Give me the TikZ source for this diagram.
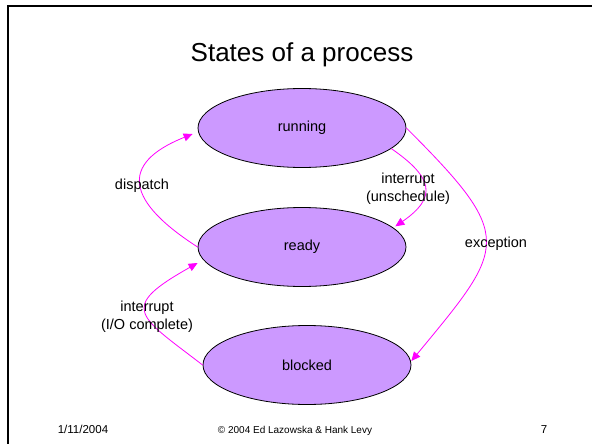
\documentclass[tikz,border=0pt]{standalone}
\usepackage{fontspec}
\setmainfont{Liberation Sans}
\usetikzlibrary{shapes.geometric,arrows.meta,calc}
\definecolor{statefill}{HTML}{CC99FF}
\definecolor{flowpink}{HTML}{FF00FF}
\begin{document}
\begin{tikzpicture}[x = 1pt, y = -1pt,
	state/.style = {ellipse, draw, line width = 0.8pt, fill = statefill,
		minimum width = 208pt, minimum height = 79pt, inner sep = 0pt,
		font = \fontsize{14.5}{18}\selectfont},
	flow/.style = {flowpink, line width = 0.8pt, -{Triangle[length = 9pt, width = 8pt]}},
	lbl/.style = {align = center, font = \fontsize{14.5}{18}\selectfont}]
	\useasboundingbox (0, 0) rectangle (592, 444);
	% frame
	\draw[line width = 2pt] (8, 446) -- (8, 6) -- (594, 6);
	% title
	\node[anchor = base, font = \fontsize{26}{30}\selectfont] (title) at (302, 62) {States of a process};
	% the states
	\node[state] (running) at (302, 128) {running};
	\node[state] (ready)   at (302, 247) {ready};
	\node[state] (blocked) at (307, 365) {blocked};
	% transitions
	\draw[flow] (ready.west) .. controls +(-70, -45) and +(-75, 30) .. ($(running.west) + (-5, 6)$);
	\draw[flow] (running.-13) .. controls +(42, 29) and +(42, -29) .. ($(ready.13) + (4, 0)$);
	\draw[flow] (running.east) .. controls +(110, 110) and +(95, -115) .. ($(blocked.east) + (0, -4)$);
	\draw[flow] (blocked.west) .. controls +(-65, -50) and +(-80, 45) .. ($(ready.west) + (0, 16)$);
	% labels
	\node[lbl] (ldispatch)  at (142, 186) {dispatch};
	\node[lbl] (lunsched)   at (408, 189) {interrupt\\(unschedule)};
	\node[lbl] (lexception) at (496, 244) {exception};
	\node[lbl] (lio)        at (147, 317) {interrupt\\(I/O complete)};
	% footer
	\node[anchor = base, font = \fontsize{11.5}{14}\selectfont] (date) at (83, 433) {1/11/2004};
	\node[anchor = base, font = \fontsize{10}{12}\selectfont] (copy) at (295, 433) {© 2004 Ed Lazowska \& Hank Levy};
	\node[anchor = base, font = \fontsize{11.5}{14}\selectfont] (page) at (544, 433) {7};
\end{tikzpicture}
\end{document}
